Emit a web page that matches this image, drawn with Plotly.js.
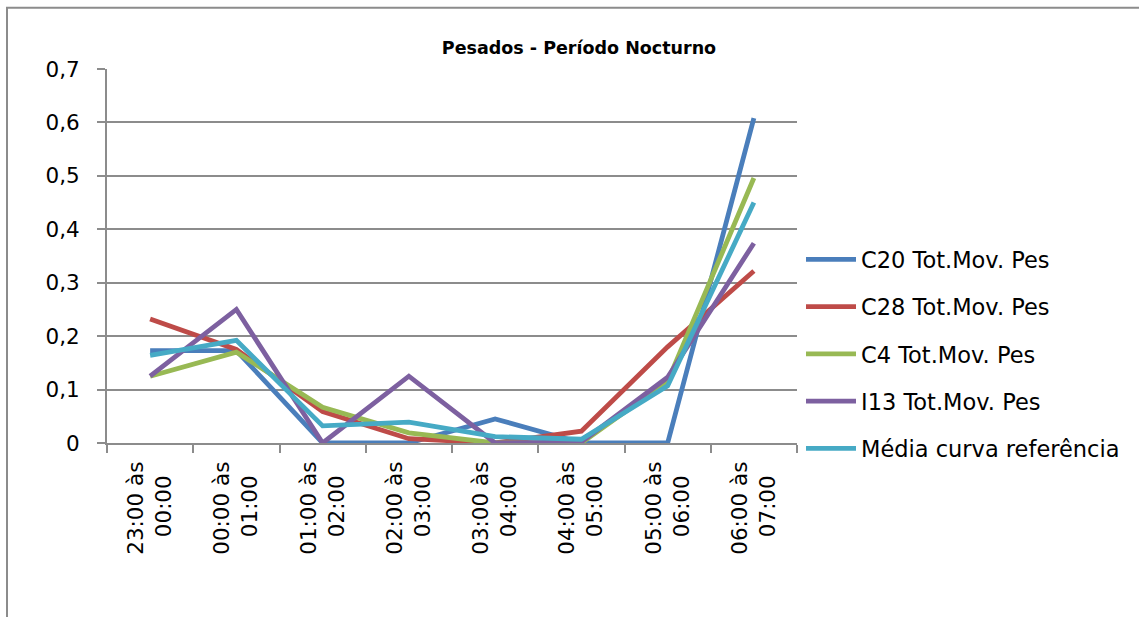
<!DOCTYPE html>
<html>
<head>
<meta charset="utf-8">
<script src="https://cdn.plot.ly/plotly-3.0.1.min.js"></script>
<style>html,body{margin:0;padding:0;background:#fff;}#chart{width:1139px;height:617px;}</style>
</head>
<body>
<div id="chart"></div>
<script>
const categories = [
  "23:00 às<br>00:00\u00A0\u00A0",
  "00:00 às<br>01:00\u00A0\u00A0",
  "01:00 às<br>02:00\u00A0\u00A0",
  "02:00 às<br>03:00\u00A0\u00A0",
  "03:00 às<br>04:00\u00A0\u00A0",
  "04:00 às<br>05:00\u00A0\u00A0",
  "05:00 às<br>06:00\u00A0\u00A0",
  "06:00 às<br>07:00\u00A0\u00A0"
];
const seriesNames = ["C20 Tot.Mov. Pes", "C28 Tot.Mov. Pes", "C4 Tot.Mov. Pes", "I13 Tot.Mov. Pes", "Média curva referência"];
const c20 = [0.173, 0.173, 0, 0, 0.045, 0, 0, 0.608];
const c28 = [0.232, 0.175, 0.059, 0.008, 0, 0.022, 0.18, 0.322];
const c4 = [0.125, 0.17, 0.067, 0.019, 0, 0, 0.115, 0.496];
const i13 = [0.125, 0.25, 0, 0.125, 0, 0.002, 0.123, 0.374];
const media = [0.164, 0.192, 0.032, 0.039, 0.012, 0.007, 0.107, 0.45];
const colors = ["#4a7ebb", "#be4b48", "#98b954", "#7d60a0", "#46aac5"];

const allSeries = [c20, c28, c4, i13, media];
const traces = allSeries.map((ys, i) => ({
  x: categories,
  y: ys,
  type: "scatter",
  mode: "lines",
  name: seriesNames[i],
  legendgroup: "g" + i,
  line: {color: colors[i], width: 4.8},
  hoverinfo: "skip"
}));

const FONT = "DejaVu Sans, Liberation Sans, Arial, sans-serif";
const L = 107, R = 797, T = 69.3, B = 443.3;
const pw = R - L, ph = B - T;
const px2x = p => (p - L) / pw;
const px2y = p => (B - p) / ph;

const layout = {
  width: 1139,
  height: 617,
  margin: {l: L, r: 1139 - R, t: T, b: 617 - B, pad: 0},
  paper_bgcolor: "#ffffff",
  plot_bgcolor: "#ffffff",
  separators: ",.",
  font: {family: FONT, size: 21, color: "#000000"},
  title: {
    text: "<b>Pesados - Período Nocturno</b>",
    font: {family: FONT, size: 17.5, color: "#000000"},
    xref: "paper", x: px2x(579), xanchor: "center",
    yref: "container", y: 1 - 48 / 617, yanchor: "middle"
  },
  showlegend: true,
  legend: {
    x: px2x(801), xanchor: "left",
    y: px2y(354.5), yanchor: "middle",
    font: {family: FONT, size: 22.5, color: "#000000"},
    tracegroupgap: 15,
    bgcolor: "rgba(0,0,0,0)",
    itemwidth: 50
  },
  xaxis: {
    type: "category",
    range: [-0.5, 7.5],
    showgrid: false,
    showline: true,
    linecolor: "#8c8c8c",
    linewidth: 2,
    ticks: "outside",
    tickson: "boundaries",
    ticklen: 8,
    tickwidth: 2,
    tickcolor: "#8c8c8c",
    tickangle: -90,
    ticklabelstandoff: 8,
    tickfont: {family: FONT, size: 21.5, color: "#000000"},
    zeroline: false,
    fixedrange: true
  },
  yaxis: {
    range: [0, 0.7],
    dtick: 0.1,
    tick0: 0,
    showgrid: true,
    gridcolor: "#8c8c8c",
    gridwidth: 2,
    showline: true,
    linecolor: "#8c8c8c",
    linewidth: 2,
    ticks: "outside",
    ticklen: 8,
    tickwidth: 2,
    tickcolor: "#8c8c8c",
    ticklabelstandoff: 13,
    tickfont: {family: FONT, size: 21.5, color: "#000000"},
    zeroline: false,
    fixedrange: true
  },
  shapes: [{
    type: "rect",
    xref: "paper", yref: "paper",
    x0: px2x(7), x1: px2x(1150),
    y0: px2y(630), y1: px2y(8),
    line: {color: "#8c8c8c", width: 2},
    fillcolor: "rgba(0,0,0,0)",
    layer: "below"
  }]
};

Plotly.newPlot("chart", traces, layout, {displayModeBar: false, staticPlot: true});
</script>
</body>
</html>
